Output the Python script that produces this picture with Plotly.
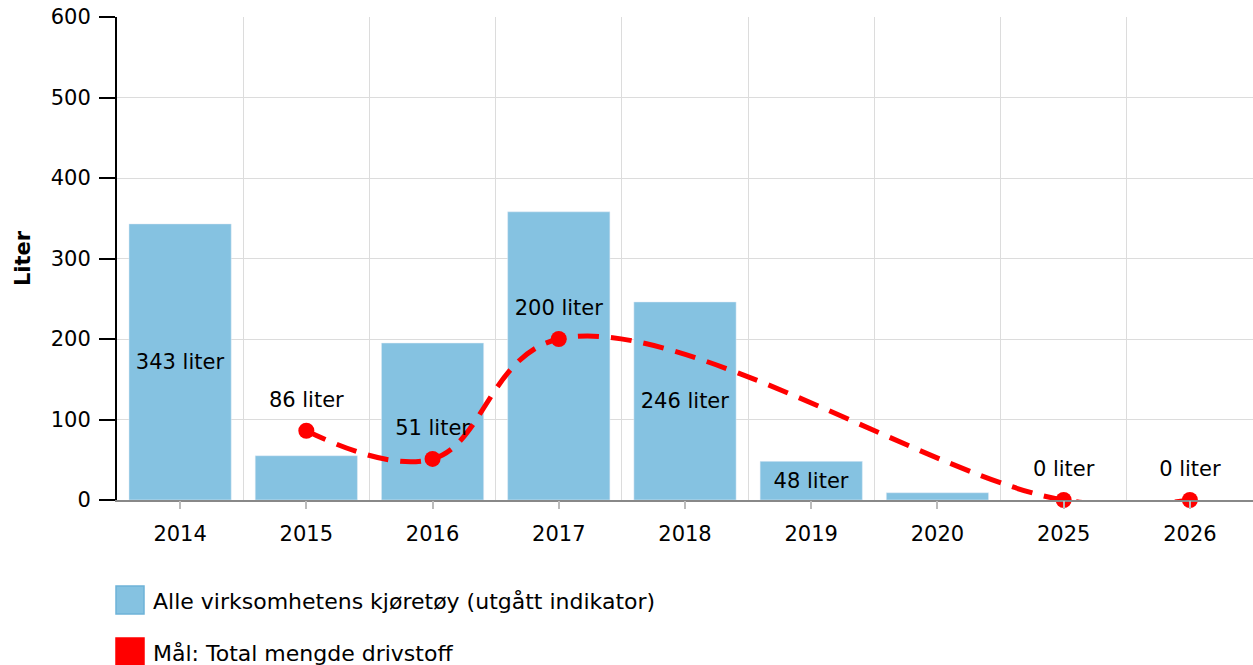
import plotly.graph_objects as go

years = ["2014", "2015", "2016", "2017", "2018", "2019", "2020", "2025", "2026"]
bar_values = [343, 55, 195, 358, 246, 48, 9, None, None]
bar_labels = ["343 liter", "", "", "", "246 liter", "48 liter", "", "", ""]
goal_values = [None, 86, 51, 200, None, None, None, 0, 0]
goal_labels = ["", "86 liter", "51 liter", "200 liter", "", "", "", "0 liter", "0 liter"]

bar_name = "Alle virksomhetens kjøretøy (utgått indikator)"
goal_name = "Mål: Total mengde drivstoff"
bar_color = "#85c2e1"
goal_color = "#ff0000"
FONT = "DejaVu Sans, Verdana, sans-serif"
FS = 21

W, H = 1253, 665
L, R, T, B = 117, 0, 17, 165
pw, ph = W - L - R, H - T - B

fig = go.Figure()
fig.add_trace(go.Bar(
    x=years, y=bar_values, name=bar_name, marker_color=bar_color,
    text=bar_labels, textposition="inside", insidetextanchor="middle",
    textfont=dict(color="black", size=FS, family=FONT), textangle=0,
    showlegend=False, hoverinfo="x+y",
))
fig.add_trace(go.Scatter(
    x=years, y=goal_values, name=goal_name, mode="lines+markers",
    line=dict(color=goal_color, width=5, dash="21px,12px", shape="spline", smoothing=1.1),
    marker=dict(color=goal_color, size=16),
    connectgaps=True, showlegend=False, cliponaxis=False,
))
# labels for goal points, lifted a bit above the markers
fig.add_trace(go.Scatter(
    x=years, y=goal_values, mode="markers+text",
    marker=dict(color="rgba(0,0,0,0)", size=28),
    text=goal_labels, textposition="top center",
    textfont=dict(color="black", size=FS, family=FONT),
    showlegend=False, hoverinfo="skip", cliponaxis=False,
))
# invisible trace on overlay axis for center tick marks
fig.add_trace(go.Scatter(x=years, y=[None]*len(years), xaxis="x2", showlegend=False, hoverinfo="skip"))

fig.update_layout(
    width=W, height=H,
    margin=dict(l=L, r=R, t=T, b=B, autoexpand=False),
    plot_bgcolor="white", paper_bgcolor="white",
    font=dict(family=FONT, size=FS, color="black"),
    bargap=0.19,
    xaxis=dict(
        type="category", categoryorder="array", categoryarray=years,
        range=[-0.5, len(years) - 0.5],
        tickson="boundaries", showgrid=True, gridcolor="#dcdcdc", gridwidth=1,
        ticks="", showline=True, linecolor="#888888", linewidth=1.5,
        tickfont=dict(size=FS), ticklabelstandoff=14,
    ),
    xaxis2=dict(
        type="category", categoryorder="array", categoryarray=years,
        range=[-0.5, len(years) - 0.5], overlaying="x",
        showgrid=False, showticklabels=False, ticks="outside", ticklen=8,
        tickcolor="#bbbbbb", tickwidth=1.5, showline=False, anchor="y",
    ),
    yaxis=dict(
        range=[0, 600], dtick=100, showgrid=True, gridcolor="#dcdcdc", gridwidth=1,
        showline=True, linecolor="black", linewidth=2, ticks="outside", ticklen=16,
        tickcolor="black", tickwidth=1.5, tickfont=dict(size=FS), zeroline=False,
        ticklabelstandoff=4,
        title=dict(text="<b>Liter</b>", font=dict(size=FS), standoff=14),
    ),
)

# custom legend (square swatches)
def px_to_paper_x(px):
    return (px - L) / pw

def px_to_paper_y(py):
    return (H - B - py) / ph

legend_items = [(bar_name, bar_color, "#6db3d8", 586, 614, 601), (goal_name, goal_color, goal_color, 638, 666, 653)]
for name, fill, edge, y0, y1, yc in legend_items:
    fig.add_shape(type="rect", xref="paper", yref="paper",
                  x0=px_to_paper_x(116), x1=px_to_paper_x(144),
                  y0=px_to_paper_y(y1), y1=px_to_paper_y(y0),
                  fillcolor=fill, line=dict(color=edge, width=1.5))
    fig.add_annotation(text=name, xref="paper", yref="paper",
                       x=px_to_paper_x(151), y=px_to_paper_y(yc),
                       xanchor="left", yanchor="middle", showarrow=False,
                       font=dict(size=22, color="black", family=FONT))

fig.write_html("out.html", config={"displayModeBar": False},
               post_script="document.body.style.margin='0';document.body.style.overflow='hidden';")
